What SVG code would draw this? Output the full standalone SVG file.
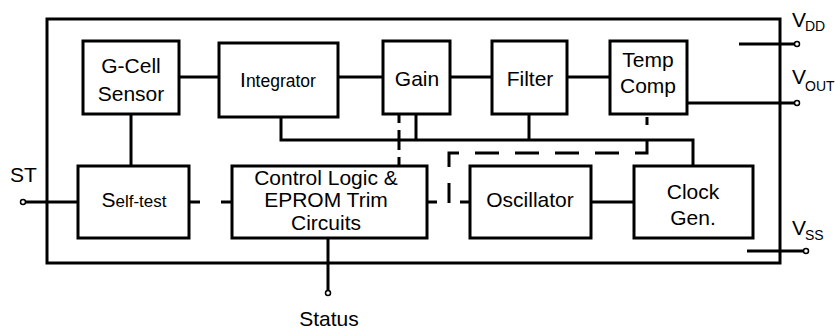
<svg xmlns="http://www.w3.org/2000/svg" width="835" height="329" viewBox="0 0 835 329">
<style>
.box{fill:#fff;stroke:#000;stroke-width:3}
.ln{fill:none;stroke:#000;stroke-width:3}
.dash{fill:none;stroke:#000;stroke-width:3}
.pin{fill:#fff;stroke:#000;stroke-width:1.5}
text{font-family:"Liberation Sans",Arial,sans-serif;font-size:21px;fill:#000}
.c{text-anchor:middle}
.sub{font-size:14px}
</style>
<rect width="835" height="329" fill="#fff"/>
<g id="chip">
<rect x="47" y="19" width="733" height="244" fill="none" stroke="#000" stroke-width="3"/>
</g>
<g id="connectors">
<line class="ln" x1="179" y1="77" x2="219" y2="77"/>
<line class="ln" x1="338" y1="77" x2="383" y2="77"/>
<line class="ln" x1="450" y1="77" x2="492" y2="77"/>
<line class="ln" x1="567" y1="77" x2="610" y2="77"/>
<line class="ln" x1="687" y1="103" x2="795" y2="103"/>
<line class="ln" x1="739" y1="44" x2="795" y2="44"/>
<line class="ln" x1="747" y1="251" x2="804" y2="251"/>
<line class="ln" x1="25" y1="202" x2="78" y2="202"/>
<line class="ln" x1="131" y1="114" x2="131" y2="166"/>
<line class="ln" x1="328" y1="238" x2="328" y2="291"/>
<line class="ln" x1="591" y1="202" x2="634" y2="202"/>
<polyline class="ln" points="281,117 281,140 693,140 693,166"/>
<line class="ln" x1="416" y1="114" x2="416" y2="140"/>
<line class="ln" x1="529" y1="114" x2="529" y2="140"/>
<line class="dash" x1="189" y1="202" x2="232" y2="202" stroke-dasharray="11 21"/>
<line class="dash" x1="399" y1="114" x2="399" y2="166" stroke-dasharray="9 7 20 7"/>
<line class="dash" x1="427" y1="202" x2="470" y2="202" stroke-dasharray="10 23"/>
<polyline class="dash" points="449,203 449,153 647,153 647,117" stroke-dasharray="24 16" stroke-dashoffset="4"/>
</g>
<g id="gcell"><rect class="box" x="83" y="41" width="96" height="73"/><text class="c" x="131" y="73">G-Cell</text><text class="c" x="131" y="101">Sensor</text></g>
<g id="integrator"><rect class="box" x="219" y="43" width="119" height="74"/><text class="c" x="278" y="87">I<tspan font-size="17.5">ntegrator</tspan></text></g>
<g id="gain"><rect class="box" x="383" y="41" width="67" height="73"/><text class="c" x="417" y="86">Gain</text></g>
<g id="filter"><rect class="box" x="492" y="41" width="75" height="73"/><text class="c" x="530" y="86">Filter</text></g>
<g id="tempcomp"><rect class="box" x="610" y="41" width="77" height="73"/><text class="c" x="648" y="67">Temp</text><text class="c" x="648" y="93">Comp</text></g>
<g id="selftest"><rect class="box" x="78" y="166" width="111" height="72"/><text class="c" x="134" y="207">S<tspan font-size="17">elf-test</tspan></text></g>
<g id="control"><rect class="box" x="232" y="166" width="195" height="72"/><text class="c" x="326" y="185">Control Logic &amp;</text><text class="c" x="326" y="207">EPROM Trim</text><text class="c" x="326" y="230">Circuits</text></g>
<g id="oscillator"><rect class="box" x="470" y="166" width="121" height="72"/><text class="c" x="530" y="207">Oscillator</text></g>
<g id="clockgen"><rect class="box" x="634" y="166" width="119" height="72"/><text class="c" x="693" y="199">Clock</text><text class="c" x="693" y="225">Gen.</text></g>
<g id="pins">
<circle class="pin" cx="797" cy="44" r="2.5"/>
<circle class="pin" cx="797" cy="103" r="2.5"/>
<circle class="pin" cx="806" cy="251" r="2.5"/>
<circle class="pin" cx="23" cy="202" r="2.5"/>
<circle class="pin" cx="328" cy="293" r="2.5"/>
<text x="792" y="27">V<tspan class="sub" x="805" y="31">DD</tspan></text>
<text x="792" y="84">V<tspan class="sub" x="805" y="91">OUT</tspan></text>
<text x="792" y="235">V<tspan class="sub" x="805" y="240">SS</tspan></text>
<text x="10" y="182">ST</text>
<text class="c" x="329" y="326">Status</text>
</g>
</svg>
